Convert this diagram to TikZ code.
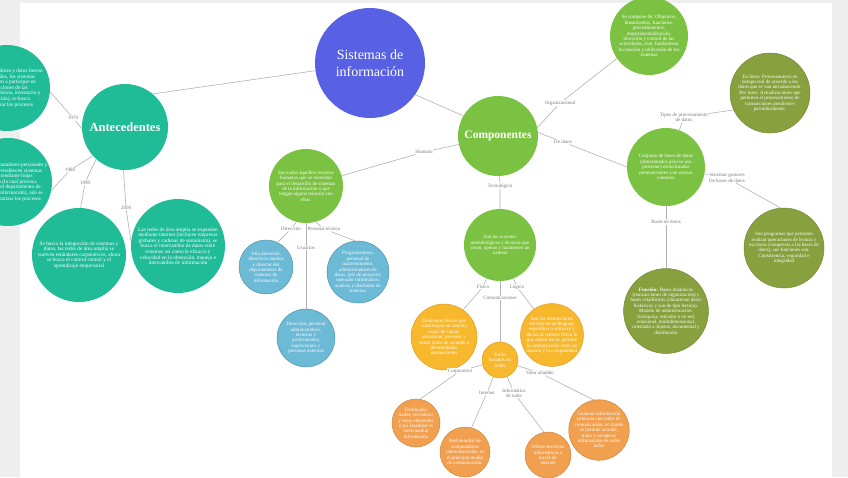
\documentclass[tikz,border=0pt]{standalone}
\usepackage{fontspec}
\setmainfont{Liberation Serif}
\definecolor{bgray}{RGB}{238,238,238}
\definecolor{sysblue}{RGB}{88,96,228}
\definecolor{teal1}{RGB}{32,188,152}
\definecolor{green1}{RGB}{124,194,66}
\definecolor{olive1}{RGB}{136,160,62}
\definecolor{blue1}{RGB}{108,186,214}
\definecolor{gold1}{RGB}{247,184,46}
\definecolor{orange1}{RGB}{241,160,80}
\definecolor{linegray}{RGB}{178,178,178}
\definecolor{lblgray}{RGB}{120,120,120}
\begin{document}
\begin{tikzpicture}[x=1pt,y=-1pt,
  circ/.style={circle, inner sep=0pt, align=center, text=white},
  tealc/.style={circ, fill=teal1},
  greenc/.style={circ, fill=green1},
  olivec/.style={circ, fill=olive1, draw=olive1!85!black, line width=0.5pt},
  bluec/.style={circ, fill=blue1, draw=blue1!80!black, line width=0.5pt},
  goldc/.style={circ, fill=gold1, draw=gold1!88!black, line width=0.5pt},
  orangec/.style={circ, fill=orange1, draw=orange1!85!black, line width=0.5pt},
  txt/.style={font=\fontsize{5.3}{5.6}\selectfont},
  stxt/.style={font=\fontsize{5}{5.4}\selectfont},
  lbl/.style={fill=white, text=lblgray, inner sep=0.6pt, align=center, font=\fontsize{5}{5.4}\selectfont},
  conn/.style={draw=linegray, line width=0.6pt}]
\useasboundingbox (0,0) rectangle (848,477);
\fill[bgray] (0,0) rectangle (848,477);
\fill[white] (20,3) rectangle (832,477);
\clip (0,0) rectangle (848,477);

% main nodes
\node[circ, fill=sysblue, minimum size=110, font=\fontsize{14}{17}\selectfont] (sis) at (370,63) {Sistemas de\\información};
\node[tealc, minimum size=86, font=\bfseries\fontsize{12.5}{15}\selectfont] (ant) at (125,127) {Antecedentes};
\node[tealc, txt, minimum size=86] (lt) at (7,88) {Con computadores y datos fueron\\centralizados, los sistemas\\comenzaron a participar en\\las funciones de las\\empresas (nómina, inventario y\\facturación), se busca\\automatizar los procesos};
\node[tealc, txt, minimum size=88] (lm) at (8,182) {Aparecen computadores personales y\\los usuarios establecen sistemas\\propios mediante hojas\\de cálculo (lo cual provoca\\la pérdida del departamento de\\sistemas de información), aún se\\busca automatizar los procesos};
\node[tealc, txt, minimum size=94] (bl1) at (79,255) {Se busca la integración de sistemas y\\datos, las redes de área amplia se\\vuelven estándares corporativos, ahora\\se busca el control central y el\\aprendizaje empresarial};
\node[tealc, txt, minimum size=94] (bl2) at (178,246) {Las redes de área amplia se expanden\\mediante internet (incluyen empresas\\globales y cadenas de suministro), se\\busca el intercambio de datos entre\\sistemas así como la eficacia y\\velocidad en la obtención, manejo e\\intercambio de información};
\node[greenc, minimum size=80, font=\bfseries\fontsize{11.5}{14}\selectfont] (comp) at (498,136) {Componentes};
\node[greenc, stxt, minimum size=78] (tr) at (649,36) {Se compone de: Objetivos,\\lineamientos, funciones,\\procedimientos,\\departamentalización,\\dirección y control de las\\actividades, esto, fundamenta\\la creación y utilización de los\\sistemas};
\node[olivec, stxt, minimum size=80] (el) at (770,93) {En línea: Procesamiento en\\tiempo real de acuerdo a los\\datos que se van introduciendo.\\Por lotes: Actualizaciones que\\permiten el procesamiento de\\transacciones pendientes\\periódicamente.};
\node[greenc, stxt, minimum size=78] (bd) at (666,167) {Conjunto de bases de datos\\(almacenados para su uso\\posterior) estructurados\\pertenecientes a un mismo\\contexto};
\node[olivec, stxt, minimum size=80] (rb) at (784,248) {Son programas que permiten\\realizar operaciones de lectura y\\escritura (compresas a las bases de\\datos), sus funciones son:\\Consistencia, seguridad e\\integridad};
\node[olivec, stxt, minimum size=78] (fn) at (666,311) {\textbf{Función:} Bases dinámicas\\(transacciones de organización) y\\bases estadísticas (almacenan datos\\históricos y son de tipo lectura).\\Modelo de administración:\\Jerárquica, reticular o en red,\\relacional, multidimensional,\\orientada a objetos, documental y\\distribuidas};
\node[greenc, stxt, minimum size=74] (hum) at (306,186) {Son todos aquellos recursos\\humanos que se necesitan\\para el desarrollo de sistemas\\de la información o que\\tengan alguna relación con\\ellos.};
\node[bluec, stxt, minimum size=54] (b1) at (266,267) {Alta dirección,\\directivos medios\\y director del\\departamento de\\sistemas de\\información};
\node[bluec, stxt, minimum size=58] (b2) at (358,272) {Programadores,\\personal de\\mantenimiento,\\administradores de\\datos, jefe de proyecto,\\operador informático,\\analista y diseñador de\\sistemas};
\node[bluec, stxt, minimum size=58] (b3) at (306,338) {Dirección, personal\\administrativo,\\técnicos y\\profesionales,\\supervisores y\\personas externas};
\node[greenc, stxt, minimum size=72] (tec) at (500,245) {Son las acciones\\metodológicas y técnicas que\\crean, operan y mantienen un\\sistema};
\node[goldc, stxt, minimum size=66] (oL) at (444,337) {Elementos físicos que\\constituyen un sistema\\capaz de captar,\\almacenar, procesar y\\emitir datos de acuerdo a\\determinadas\\instrucciones};
\node[goldc, stxt, minimum size=62] (oR) at (552,335) {Son las instrucciones\\escritas en un lenguaje\\específico o software y\\dictan al sistema físico lo\\que deben hacer, permite\\la comunicación entre un\\usuario y la computadora};
\node[goldc, stxt, minimum size=36] (sm) at (500,360) {Están\\basados en\\redes};
\node[orangec, stxt, minimum size=48] (c1) at (416,423) {Terminales,\\nodos, servidores\\y otros elementos\\cuya finalidad es\\intercambiar\\información};
\node[orangec, stxt, minimum size=50] (c2) at (465,452) {Red mundial de\\computadoras\\interconectadas, es\\el principal medio\\de comunicación.};
\node[orangec, stxt, minimum size=46] (c3) at (548,455) {Ofrece servicios\\informáticos a\\través de\\internet};
\node[orangec, stxt, minimum size=58] (c4) at (599,430) {Generan información\\primaria con redes de\\comunicación, en donde\\se permite acceder,\\tratar y recuperar\\información de todos\\lados};

% labels
\node[lbl] (l1970) at (73,118) {1970};
\node[lbl] (l1980) at (70,170) {1980};
\node[lbl] (l1990) at (85,183) {1990};
\node[lbl] (l2000) at (126,208) {2000};
\node[lbl] (lorg) at (560,103) {Organizacional};
\node[lbl] (ldat) at (563,142) {De datos};
\node[lbl] (ltip) at (684,117) {Tipos de procesamiento\\de datos};
\node[lbl] (lsge) at (727,178) {Sistemas gestores\\De bases de datos};
\node[lbl] (lbd) at (666,222) {Bases de datos};
\node[lbl] (lhum) at (424,152) {Humano};
\node[lbl] (ltec) at (500,186) {Tecnológico};
\node[lbl] (ldir) at (291,229) {Dirección};
\node[lbl] (lper) at (324,229) {Personal técnico};
\node[lbl] (lusu) at (306,248) {Usuarios};
\node[lbl] (lfis) at (483,287) {Físico};
\node[lbl] (llog) at (517,287) {Lógico};
\node[lbl] (lcom) at (500,298) {Comunicaciones};
\node[lbl] (lcor) at (460,371) {Corporativo};
\node[lbl] (lint) at (487,393) {Internet};
\node[lbl] (lnub) at (514,393) {Informática\\de nube};
\node[lbl] (lval) at (540,373) {Valor añadido};

% connectors
\draw[conn] (sis.188) -- (ant.50);
\draw[conn] (sis.-35) -- (comp.150);
\draw[conn] (ant.182) -- (l1970) -- (lt.-5);
\draw[conn] (ant.222) -- (l1980) -- (lm.-11);
\draw[conn] (ant.228) -- (l1990) -- (bl1.88);
\draw[conn] (ant.268) -- (l2000) -- (bl2.175);
\draw[conn] (comp.12) -- (lorg) -- (tr.215);
\draw[conn] (comp.5) -- (ldat) -- (bd.180);
\draw[conn] (bd) -- (ltip) -- (el.205);
\draw[conn] (bd) -- (lsge) -- (rb.95);
\draw[conn] (bd) -- (lbd) -- (fn);
\draw[conn] (comp) -- (lhum) -- (hum);
\draw[conn] (comp) -- (ltec) -- (tec);
\draw[conn] (hum.255) -- (ldir) -- (b1.65);
\draw[conn] (hum.285) -- (lper) -- (b2.95);
\draw[conn] (hum) -- (lusu) -- (b3);
\draw[conn] (tec) -- (lfis) -- (oL.55);
\draw[conn] (tec) -- (llog) -- (oR.125);
\draw[conn] (tec) -- (lcom) -- (sm);
\draw[conn] (sm) -- (lcor) -- (c1.80);
\draw[conn] (sm) -- (lint) -- (c2.75);
\draw[conn] (sm) -- (lnub) -- (c3.100);
\draw[conn] (sm) -- (lval) -- (c4.100);
\end{tikzpicture}
\end{document}
